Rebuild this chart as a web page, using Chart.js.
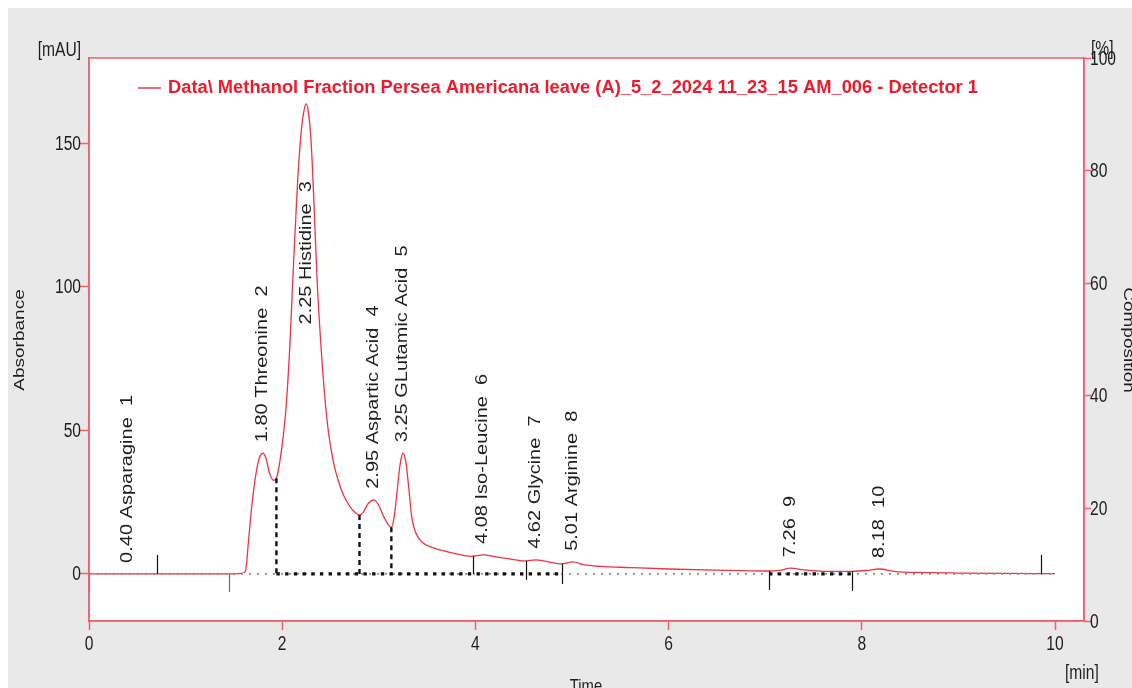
<!DOCTYPE html>
<html>
<head>
<meta charset="utf-8">
<script src="https://cdn.jsdelivr.net/npm/chart.js@4.4.1/dist/chart.umd.min.js"></script>
<style>
  html, body { margin: 0; padding: 0; background: #ffffff; }
  #wrap { width: 1132px; height: 688px; }
  canvas { display: block; }
</style>
</head>
<body>
<div id="wrap"><canvas id="chrom" width="1132" height="688"></canvas></div>
<script>
// Retention time axis of the detector trace [min]
const times = [
  0.00, 0.50, 1.00, 1.50, 1.58, 1.62, 1.65, 1.68, 1.72, 1.76, 1.80, 1.83, 1.87, 1.91, 1.94,
  1.97, 2.00, 2.04, 2.08, 2.12, 2.16, 2.20, 2.23, 2.25, 2.27, 2.30, 2.33, 2.36, 2.40, 2.44,
  2.48, 2.53, 2.58, 2.64, 2.70, 2.76, 2.80, 2.84, 2.89, 2.95, 3.00, 3.05, 3.10, 3.13, 3.16,
  3.19, 3.22, 3.25, 3.28, 3.31, 3.34, 3.38, 3.45, 3.55, 3.65, 3.80, 3.95, 4.08, 4.20, 4.35,
  4.51, 4.62, 4.75, 4.89, 5.01, 5.12, 5.30, 5.60, 6.00, 6.50, 7.00, 7.15, 7.26, 7.40, 7.60,
  7.90, 8.05, 8.18, 8.35, 8.60, 9.00, 9.50, 10.00
];
// Detector 1 absorbance [mAU]
const absorbance = [
  0, 0, 0, 0, 0.2, 1.0, 11, 22, 33, 40, 42, 40.5, 35, 32.6, 33.3,
  38, 45, 58, 80, 110, 137, 155, 162, 163.6, 161, 150, 128, 103, 80, 62,
  49, 39, 32.5, 27, 23.5, 21.2, 20.5, 21.5, 24.5, 25.8, 23.8, 20, 17, 16.2, 20,
  29, 38, 42, 39, 30, 20, 14.5, 11, 9.2, 8.2, 7.0, 6.1, 6.6, 6.0, 5.2,
  4.5, 4.9, 4.2, 3.5, 4.2, 3.2, 2.6, 2.2, 1.7, 1.3, 1.0, 1.2, 2.0, 1.4, 0.9,
  0.9, 1.2, 1.7, 0.8, 0.5, 0.3, 0.15, 0.1
];

// Identified peaks
const peakTimes = [0.40, 1.80, 2.25, 2.95, 3.25, 4.08, 4.62, 5.01, 7.26, 8.18];
const peakNames = ['Asparagine', 'Threonine', 'Histidine', 'Aspartic Acid', 'GLutamic Acid',
                   'Iso-Leucine', 'Glycine', 'Arginine', '', ''];

// Integration events
const valleyDrops = [1.94, 2.80, 3.13];          // dashed perpendicular drops
const integratedSpans = [[1.94, 4.90], [7.04, 7.90]];
const startMarks = [0.70, 9.85];                 // integration on/off events
const greyMarks = [0.00, 1.45];                  // threshold events
const peakMarks = [3.98, 4.52, 4.90, 7.04, 7.90]; // peak start/end marks

// Axis ranges and tick steps
const xRange = [0, 10.3];
const yRange = [-16.4, 179.6];
const y2Range = [0, 100];
const xStep = 2, yStep = 50, y2Step = 20;

const legendText = 'Data\\ Methanol Fraction Persea Americana leave (A)_5_2_2024 11_23_15 AM_006 - Detector 1';

// ---------------------------------------------------------------
const RED = '#f0606d';
const TRACE = '#ec3442';
const TXT = '#1e1e1e';
const FONT = '"Liberation Sans", Arial, sans-serif';
const SQ = 0.78; // horizontal squeeze of the instrument font

function valueAt(t) {
  for (let i = 1; i < times.length; i++) {
    if (t <= times[i]) {
      const f = (t - times[i - 1]) / (times[i] - times[i - 1]);
      return absorbance[i - 1] + f * (absorbance[i] - absorbance[i - 1]);
    }
  }
  return absorbance[absorbance.length - 1];
}

function peakHeight(t) {
  const i = times.indexOf(t);
  return i >= 0 ? absorbance[i] : valueAt(t);
}

function squeezedText(ctx, text, x, y, opt) {
  ctx.save();
  ctx.translate(x, y);
  ctx.font = opt.font;
  ctx.fillStyle = opt.color || TXT;
  ctx.textAlign = opt.align || 'left';
  ctx.textBaseline = opt.baseline || 'middle';
  if (opt.rot) {
    ctx.rotate(opt.rot);
    ctx.scale(1, opt.sx || SQ);
  } else {
    ctx.scale(opt.sx || SQ, 1);
  }
  ctx.fillText(text, 0, 0);
  ctx.restore();
}

const traceData = times.map((t, i) => ({ x: t, y: absorbance[i] }));

const datasets = [];
// bold dotted baseline under integrated peaks (drawn on top)
integratedSpans.forEach(s => datasets.push({
  data: [{ x: s[0], y: 0 }, { x: s[1], y: 0 }],
  borderColor: '#111111', borderWidth: 3.4, borderDash: [3.4, 5.3],
  borderCapStyle: 'butt', pointRadius: 0, yAxisID: 'y'
}));
// grey dotted baseline over the whole run
datasets.push({
  data: [{ x: 0, y: 0 }, { x: 10, y: 0 }],
  borderColor: '#8a8a8a', borderWidth: 1.6, borderDash: [2, 6],
  pointRadius: 0, yAxisID: 'y'
});
// perpendicular drops at valleys
valleyDrops.forEach(t => datasets.push({
  data: [{ x: t, y: peakHeight(t) }, { x: t, y: 0 }],
  borderColor: '#111111', borderWidth: 2.4, borderDash: [5, 4],
  pointRadius: 0, yAxisID: 'y'
}));
// detector trace
datasets.push({
  data: traceData,
  borderColor: TRACE, borderWidth: 1.3,
  pointRadius: 0, cubicInterpolationMode: 'monotone', yAxisID: 'y'
});

const decor = {
  id: 'decor',
  beforeDraw(chart) {
    const ctx = chart.ctx, a = chart.chartArea;
    ctx.save();
    ctx.fillStyle = '#ffffff';
    ctx.fillRect(0, 0, chart.width, chart.height);
    ctx.fillStyle = '#e9e9e9';
    ctx.fillRect(8, 8, chart.width - 8, chart.height - 8);
    ctx.fillStyle = '#ffffff';
    ctx.fillRect(a.left, a.top, a.right - a.left, a.bottom - a.top);
    ctx.restore();
  },
  afterDatasetsDraw(chart) {
    const ctx = chart.ctx;
    const xs = chart.scales.x, ys = chart.scales.y;
    const y0 = ys.getPixelForValue(0);
    ctx.save();
    ctx.lineWidth = 1.2;
    // threshold events (grey, below baseline)
    ctx.strokeStyle = '#6e6e6e';
    greyMarks.forEach(t => {
      const px = Math.round(xs.getPixelForValue(t)) + 0.5;
      ctx.beginPath(); ctx.moveTo(px, y0); ctx.lineTo(px, y0 + 18); ctx.stroke();
    });
    // integration on/off events (above baseline)
    ctx.strokeStyle = '#111111';
    startMarks.forEach(t => {
      const px = Math.round(xs.getPixelForValue(t)) + 0.5;
      ctx.beginPath(); ctx.moveTo(px, y0 - 19); ctx.lineTo(px, y0); ctx.stroke();
    });
    // peak start / end marks from the trace down through the baseline
    const depth = [0, 6, 10, 16, 17];
    peakMarks.forEach((t, i) => {
      const px = Math.round(xs.getPixelForValue(t)) + 0.5;
      const top = ys.getPixelForValue(valueAt(t));
      ctx.beginPath(); ctx.moveTo(px, top); ctx.lineTo(px, y0 + depth[i]); ctx.stroke();
    });
    ctx.restore();

    // peak annotations, written upward from just above each apex
    const labelCap = 83;
    peakTimes.forEach((t, i) => {
      const h = Math.min(peakHeight(t), labelCap);
      const px = xs.getPixelForValue(t);
      const py = ys.getPixelForValue(h) - 11;
      const name = peakNames[i];
      const text = t.toFixed(2) + ' ' + (name ? name + '  ' : ' ') + (i + 1);
      squeezedText(ctx, text, px, py, {
        font: '20px ' + FONT, rot: -Math.PI / 2, align: 'left', baseline: 'middle'
      });
    });
  },
  afterDraw(chart) {
    const ctx = chart.ctx, a = chart.chartArea;
    const xs = chart.scales.x, ys = chart.scales.y, y2s = chart.scales.y2;
    ctx.save();
    ctx.strokeStyle = RED;
    ctx.lineWidth = 1.5;
    ctx.strokeRect(a.left, a.top, a.right - a.left, a.bottom - a.top);
    ctx.restore();

    // tick labels in the narrow instrument font, placed by each scale
    const tf = '20px ' + FONT;
    xs.ticks.forEach(tk => squeezedText(ctx, String(tk.value), xs.getPixelForValue(tk.value), 644,
      { font: tf, align: 'center' }));
    ys.ticks.forEach(tk => squeezedText(ctx, String(tk.value), 81, ys.getPixelForValue(tk.value) + 1,
      { font: tf, align: 'right' }));
    y2s.ticks.forEach(tk => squeezedText(ctx, String(tk.value), 1090, y2s.getPixelForValue(tk.value) + 1,
      { font: tf, align: 'left' }));

    // legend entry
    ctx.save();
    ctx.strokeStyle = '#ef6a78';
    ctx.lineWidth = 2;
    ctx.beginPath(); ctx.moveTo(138, 88); ctx.lineTo(161, 88); ctx.stroke();
    ctx.font = 'bold 18px ' + FONT;
    const w = ctx.measureText(legendText).width;
    ctx.restore();
    squeezedText(ctx, legendText, 168, 88, {
      font: 'bold 18px ' + FONT, color: '#ee1b2d', sx: 810 / w
    });

    // axis titles and units
    squeezedText(ctx, '[mAU]', 81, 50, { font: '20px ' + FONT, align: 'right' });
    squeezedText(ctx, 'Absorbance', 20, 340, { font: '19px ' + FONT, rot: -Math.PI / 2, align: 'center' });
    squeezedText(ctx, '[%]', 1091, 49, { font: '20px ' + FONT });
    squeezedText(ctx, 'Composition', 1128, 340, { font: '19px ' + FONT, rot: Math.PI / 2, align: 'center' });
    squeezedText(ctx, '[min]', 1065, 673, { font: '20px ' + FONT });
    squeezedText(ctx, 'Time', 586, 677, { font: '19px ' + FONT, align: 'center', baseline: 'top' });
  }
};

const axisGrid = (len) => ({
  drawOnChartArea: false, drawTicks: true, tickLength: len,
  color: RED, tickColor: RED, tickWidth: 1.5
});

new Chart(document.getElementById('chrom'), {
  type: 'line',
  data: { datasets },
  options: {
    responsive: false,
    animation: false,
    devicePixelRatio: 1,
    layout: { padding: { top: 58, left: 0, right: 0, bottom: 0 } },
    plugins: { legend: { display: false }, tooltip: { enabled: false }, title: { display: false } },
    scales: {
      x: {
        type: 'linear', position: 'bottom', min: xRange[0], max: xRange[1],
        ticks: { stepSize: xStep, includeBounds: false, display: false },
        grid: axisGrid(9),
        border: { display: true, color: RED, width: 1.5 },
        afterFit(s) { s.height = 67; }
      },
      y: {
        type: 'linear', position: 'left', min: yRange[0], max: yRange[1],
        ticks: { stepSize: yStep, includeBounds: false, display: false },
        grid: axisGrid(9),
        border: { display: true, color: RED, width: 1.5 },
        afterFit(s) { s.width = 89; }
      },
      y2: {
        type: 'linear', position: 'right', min: y2Range[0], max: y2Range[1],
        ticks: { stepSize: y2Step, display: false },
        grid: axisGrid(7),
        border: { display: true, color: RED, width: 1.5 },
        afterFit(s) { s.width = 48; }
      }
    }
  },
  plugins: [decor]
});
</script>
</body>
</html>
